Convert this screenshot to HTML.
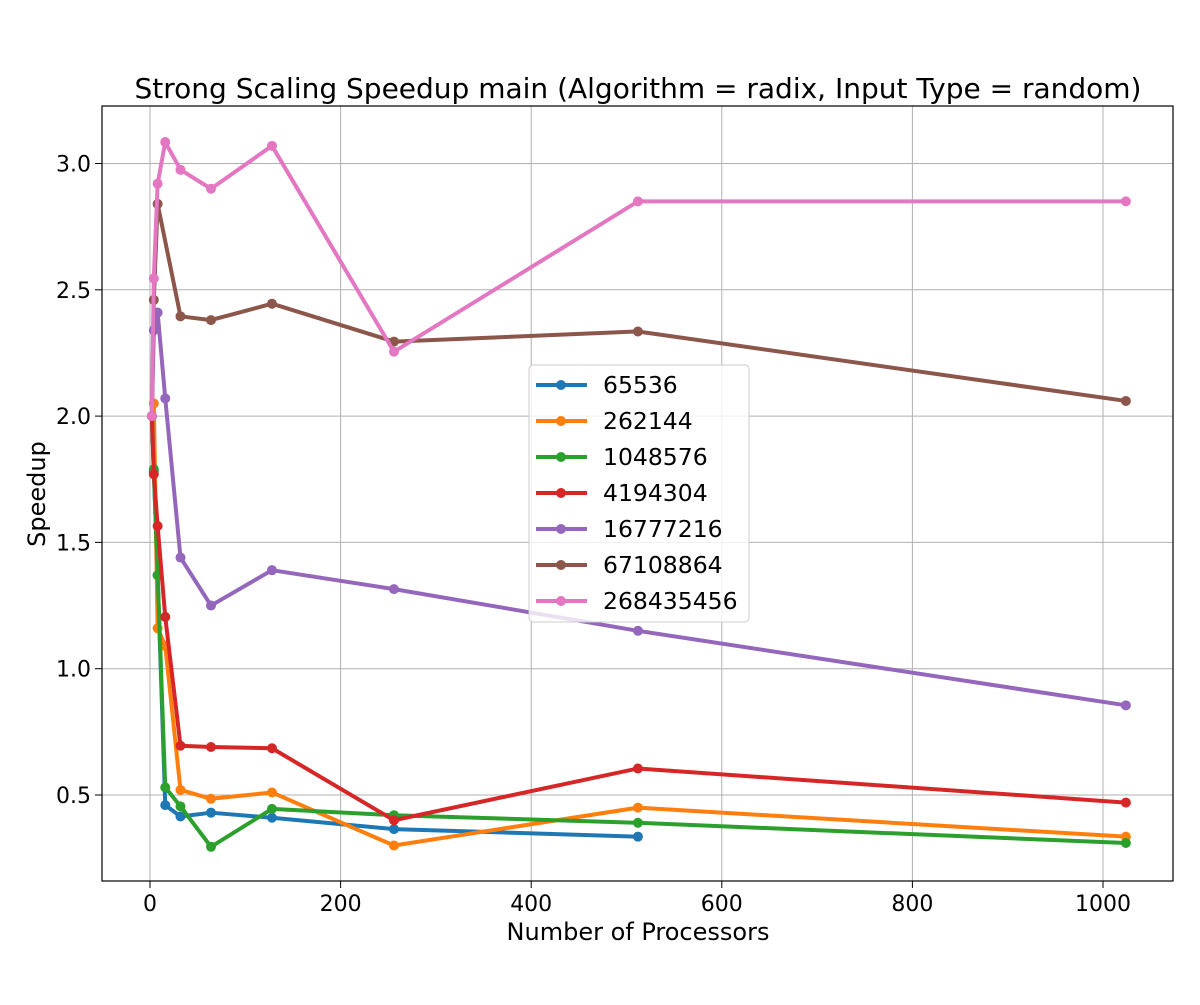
<!DOCTYPE html>
<html><head><meta charset="utf-8"><style>
body{margin:0;background:#fff;font-family:"Liberation Sans","DejaVu Sans",sans-serif}
</style></head><body>
<svg id="chart" width="1200" height="1000" xmlns="http://www.w3.org/2000/svg" font-family="DejaVu Sans, Liberation Sans, sans-serif">
<rect width="1200" height="1000" fill="#fff"/>
<g id="grid"></g>
<g id="series"></g>
<rect x="102" y="106" width="1071" height="775" fill="none" stroke="#000" stroke-width="1.2"/>
<g id="ticks"></g>
<text x="638" y="98" font-size="28" text-anchor="middle">Strong Scaling Speedup main (Algorithm = radix, Input Type = random)</text>
<text x="638" y="940" font-size="24" text-anchor="middle">Number of Processors</text>
<text transform="translate(45,494) rotate(-90)" font-size="24" text-anchor="middle">Speedup</text>
<g id="legend"></g>
</svg>
<script>
const procs=[2,4,8,16,32,64,128,256,512,1024];
const seriesNames=["65536","262144","1048576","4194304","16777216","67108864","268435456"];
const colors=["#1f77b4","#ff7f0e","#2ca02c","#d62728","#9467bd","#8c564b","#e377c2"];
const s65536=[2.0,1.78,1.37,0.46,0.415,0.43,0.41,0.365,0.335];
const s262144=[2.0,2.05,1.16,1.09,0.52,0.485,0.51,0.30,0.45,0.335];
const s1048576=[2.0,1.79,1.37,0.53,0.455,0.295,0.445,0.42,0.39,0.31];
const s4194304=[2.0,1.77,1.565,1.205,0.695,0.69,0.685,0.40,0.605,0.47];
const s16777216=[2.0,2.34,2.41,2.07,1.44,1.25,1.39,1.315,1.15,0.855];
const s67108864=[2.0,2.46,2.84,null,2.395,2.38,2.445,2.295,2.335,2.06];
const s268435456=[2.0,2.545,2.92,3.085,2.975,2.90,3.07,2.255,2.85,2.85];
const allSeries=[s65536,s262144,s1048576,s4194304,s16777216,s67108864,s268435456];
const xTicks=[0,200,400,600,800,1000];
const yTicks=[0.5,1.0,1.5,2.0,2.5,3.0];
const NS="http://www.w3.org/2000/svg";
const X=v=>150+v*(1103-150)/1000;
const Y=v=>795-(v-0.5)*252.6;
function mk(tag,parent,attrs){const e=document.createElementNS(NS,tag);for(const k in attrs)e.setAttribute(k,attrs[k]);parent.appendChild(e);return e;}
const grid=document.getElementById('grid'),ticks=document.getElementById('ticks');
xTicks.forEach(t=>{
 const l=mk('line',grid,{x1:X(t),x2:X(t),y1:106,y2:881,stroke:'#b0b0b0','stroke-width':1});
 
 
 const tk=mk('line',ticks,{x1:X(t),x2:X(t),y1:881,y2:888,stroke:'#000','stroke-width':1});
 
 
 const tx=mk('text',ticks,{x:X(t),y:911,'font-size':22,'text-anchor':'middle'});
 tx.textContent=t;
 
 
});
yTicks.forEach(t=>{
 const l=mk('line',grid,{x1:102,x2:1173,y1:Y(t),y2:Y(t),stroke:'#b0b0b0','stroke-width':1});
 
 
 const tk=mk('line',ticks,{x1:95,x2:102,y1:Y(t),y2:Y(t),stroke:'#000','stroke-width':1});
 
 
 const tx=mk('text',ticks,{x:91,y:Y(t)+8,'font-size':22,'text-anchor':'end'});
 tx.textContent=t.toFixed(1);
 
 
});
const sg=document.getElementById('series');
allSeries.forEach((vals,i)=>{
 const g=mk('g',sg,{});
 
 
 const pts=vals.map((v,j)=>v==null?null:X(procs[j])+','+Y(v)).filter(p=>p).join(' ');
 const pl=mk('polyline',g,{points:pts,fill:'none',stroke:colors[i],'stroke-width':4,'stroke-linejoin':'round'});
 
 
 vals.forEach((v,j)=>{
  if(v==null)return;
  const c=mk('circle',g,{cx:X(procs[j]),cy:Y(v),r:5,fill:colors[i]});
  
  
 });
});
const lg=document.getElementById('legend');
const box=mk('rect',lg,{x:529,y:365,width:220,height:257,rx:4,fill:'#fff','fill-opacity':0.8,stroke:'#ccc'});


seriesNames.forEach((n,i)=>{
 const y=385+i*36;
 const g=mk('g',lg,{});
 
 
 mk('line',g,{x1:536,x2:587,y1:y,y2:y,stroke:colors[i],'stroke-width':4});
 mk('circle',g,{cx:561,cy:y,r:5,fill:colors[i]});
 const t=mk('text',g,{x:603,y:y+8,'font-size':23.5});
 t.textContent=n;
});
</script>
</body></html>
